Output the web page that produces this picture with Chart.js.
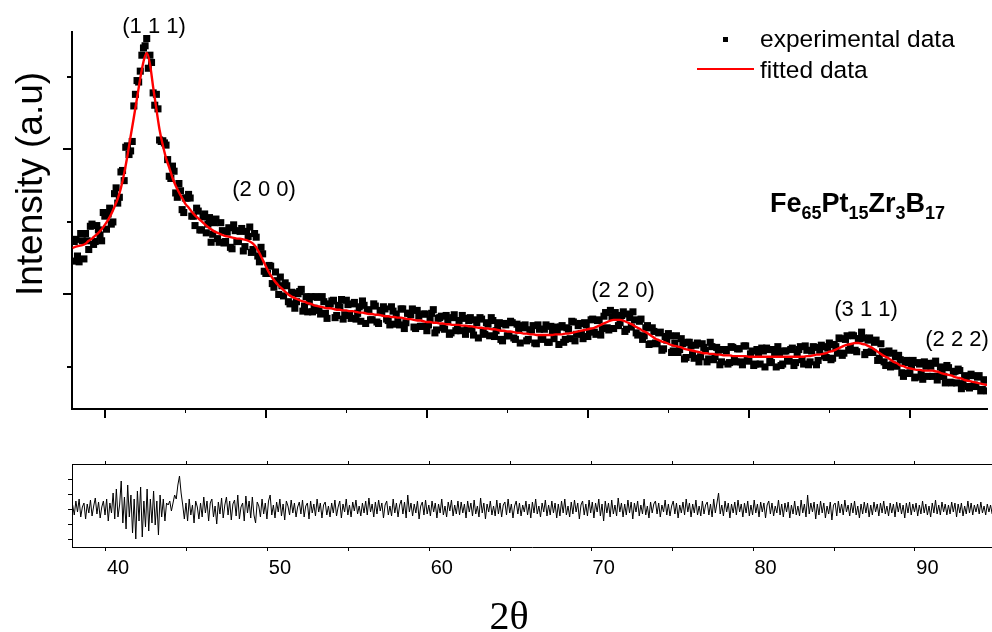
<!DOCTYPE html>
<html>
<head>
<meta charset="utf-8">
<script src="https://cdn.jsdelivr.net/npm/chart.js@4.4.1/dist/chart.umd.min.js"></script>
<style>
html, body { margin: 0; padding: 0; background: #fff; }
body { width: 992px; height: 632px; position: relative; overflow: hidden; }
canvas { position: absolute; left: 0; }
#xrdChart { top: 0; }
#residualChart { top: 440px; }
</style>
</head>
<body>
<canvas id="xrdChart" width="992" height="432"></canvas>
<canvas id="residualChart" width="992" height="192"></canvas>
<script>
// 2theta grid of the scan (deg)
const angleStart = 38.0;
const expStep = 0.1;
const fitStep = 0.2;
const residualStep = 0.1;

// measured intensity, one value every 0.1 deg from 38.0 (a.u.)
const experimental = [
    246, 273, 276, 253, 245, 284, 274, 249, 284, 274, 262, 294, 297, 269, 273, 295, 289, 282, 274, 313,
    308, 290, 311, 319, 297, 300, 339, 347, 326, 334, 369, 371, 357, 403, 405, 393, 398, 411, 460, 476,
    495, 493, 508, 530, 540, 543, 553, 512, 530, 520, 478, 461, 476, 456, 413, 411, 412, 409, 406, 386,
    363, 360, 377, 370, 340, 334, 353, 343, 317, 313, 333, 333, 338, 333, 308, 308, 295, 319, 315, 289,
    289, 307, 311, 285, 297, 306, 272, 283, 299, 304, 277, 272, 299, 288, 271, 273, 286, 292, 265, 263,
    296, 288, 273, 273, 287, 291, 260, 266, 287, 280, 293, 258, 262, 284, 279, 253, 245, 265, 256, 232,
    229, 229, 240, 239, 215, 210, 231, 219, 200, 224, 212, 198, 216, 212, 190, 187, 203, 202, 181, 190,
    201, 204, 207, 177, 184, 197, 176, 190, 197, 176, 181, 197, 196, 178, 173, 197, 190, 174, 167, 185,
    187, 191, 192, 168, 171, 185, 183, 193, 166, 172, 192, 186, 171, 167, 187, 189, 166, 174, 183, 163,
    191, 185, 160, 178, 179, 165, 165, 187, 184, 162, 160, 178, 175, 183, 180, 166, 164, 158, 183, 177,
    159, 173, 164, 158, 180, 180, 153, 161, 174, 174, 172, 180, 155, 153, 178, 170, 156, 156, 173, 173,
    150, 158, 166, 174, 179, 147, 151, 167, 168, 170, 154, 152, 171, 163, 145, 147, 168, 172, 150, 152,
    164, 150, 171, 167, 145, 153, 164, 168, 152, 144, 165, 161, 140, 168, 166, 148, 145, 161, 159, 143,
    168, 164, 142, 150, 155, 161, 138, 136, 160, 158, 143, 143, 163, 161, 140, 138, 159, 151, 133, 157,
    154, 158, 136, 138, 151, 151, 157, 133, 132, 158, 152, 140, 138, 152, 158, 134, 134, 156, 148, 139,
    155, 149, 131, 155, 157, 134, 138, 154, 152, 139, 163, 162, 136, 145, 157, 160, 146, 139, 161, 158,
    142, 149, 165, 166, 148, 145, 164, 165, 144, 153, 170, 175, 154, 151, 178, 169, 153, 175, 171, 157,
    161, 171, 176, 149, 152, 173, 168, 155, 176, 165, 147, 144, 163, 166, 138, 143, 154, 157, 131, 132,
    154, 149, 133, 132, 147, 148, 123, 125, 142, 137, 146, 143, 120, 122, 133, 143, 120, 124, 139, 132,
    111, 113, 134, 134, 129, 117, 112, 130, 133, 107, 114, 132, 127, 123, 107, 111, 134, 128, 110, 114,
    127, 123, 103, 107, 124, 124, 122, 104, 106, 128, 127, 111, 107, 125, 125, 107, 103, 129, 129, 109,
    108, 118, 122, 102, 104, 124, 118, 104, 126, 122, 100, 126, 124, 108, 106, 124, 120, 100, 128, 120,
    102, 104, 122, 122, 110, 108, 124, 126, 102, 106, 120, 124, 128, 110, 104, 129, 123, 103, 107, 122,
    128, 127, 103, 109, 123, 130, 128, 115, 113, 126, 133, 110, 112, 131, 128, 119, 140, 139, 116, 119,
    138, 143, 123, 128, 144, 143, 123, 121, 139, 139, 148, 140, 117, 120, 137, 140, 121, 120, 134, 137,
    109, 112, 132, 121, 107, 102, 119, 122, 100, 103, 119, 114, 101, 116, 110, 92, 87, 106, 109, 91,
    92, 102, 109, 85, 86, 106, 104, 90, 83, 107, 101, 87, 105, 101, 87, 105, 108, 82, 87, 100,
    95, 87, 78, 102, 99, 79, 78, 93, 94, 78, 97, 95, 70, 77, 88, 86, 73, 71, 90, 88,
    75, 73, 86, 88, 67, 69, 82, 82, 67
];

// fitted profile, one value every 0.2 deg from 38.0
const fitted = [
    264, 266, 267, 268, 270, 274, 277, 281, 285, 290, 296,
    303, 311, 321, 332, 347, 367, 391, 418, 444, 471,
    498, 521, 533, 518, 486, 456, 427, 406, 388, 375,
    361, 350, 341, 333, 325, 320, 314, 309, 305, 301,
    297, 293, 290, 287, 285, 283, 281, 280, 279, 278,
    277, 277, 276, 275, 273, 270, 265, 257, 248, 239,
    230, 223, 217, 212, 208, 204, 200, 197, 195, 193,
    191, 190, 188, 187, 185, 184, 183, 182, 181, 181,
    180, 179, 179, 178, 178, 177, 177, 176, 175, 175,
    174, 173, 173, 172, 172, 171, 170, 170, 169, 169,
    168, 168, 167, 166, 166, 165, 164, 164, 163, 162,
    162, 161, 161, 160, 160, 159, 159, 158, 158, 158,
    157, 157, 156, 156, 155, 154, 154, 153, 153, 152,
    152, 151, 150, 150, 149, 149, 148, 147, 147, 146,
    146, 145, 145, 144, 144, 144, 144, 144, 144, 145,
    145, 145, 146, 146, 147, 148, 149, 150, 151, 152,
    153, 154, 156, 158, 160, 162, 164, 165, 165, 165,
    164, 162, 160, 158, 155, 153, 150, 148, 145, 142,
    139, 137, 135, 134, 132, 130, 129, 128, 127, 125,
    124, 123, 122, 121, 120, 119, 119, 118, 118, 117,
    117, 116, 116, 116, 115, 115, 115, 115, 115, 114,
    114, 114, 114, 114, 114, 114, 114, 114, 114, 114,
    114, 114, 114, 114, 114, 114, 114, 115, 115, 116,
    117, 117, 118, 119, 121, 122, 124, 126, 128, 130,
    131, 132, 133, 133, 132, 131, 129, 127, 124, 121,
    118, 115, 113, 110, 107, 105, 102, 101, 99, 98,
    97, 96, 96, 95, 95, 95, 95, 94, 93, 91,
    90, 89, 88, 86, 85, 84, 82, 81, 80, 79,
    78, 77, 76, 75
];

// difference curve, one value every 0.1 deg from 38.0
const residual = [
    4, -6, 8, -3, 10, -8, 2, 6, -10, 5, -4, 9, -7, 3, 11, -5, 7, -9, 2, 8,
    -6, 10, -12, 6, -4, 16, -10, 20, -8, 4, 28, -14, 12, -20, 24, -8, 14, -24, 10, -30,
    18, -12, 22, -28, 8, -18, 20, -22, 10, -14, 18, -16, 8, -26, 14, -8, 10, -12, 6, 4,
    8, -2, 6, 14, 10, 24, 33, 16, 4, -10, 6, -12, 10, -6, 4, -14, 8, 2, -10, 6,
    -8, 12, -4, 8, -12, 6, 10, -8, 3, -15, 7, -5, 11, -9, 4, 12, -6, 8, -11, 5,
    9, -7, 14, -10, 2, 6, -12, 13, -4, 8, -9, 12, -6, -14, 7, 3, -8, 10, -5, 6,
    -10, 8, 14, -6, 4, -9, 7, -3, 10, -7, 5, -11, 8, 3, -6, 9, -4, 6, -8, 2,
    7, -5, 9, -8, 3, 6, -10, 8, -4, 5, -7, 10, -3, 6, -9, 4, 7, -6, 3, -8,
    6, -4, 9, -7, 2, 8, -9, 5, -3, 10, -6, 4, -8, 7, -2, 9, -5, 3, -7, 6,
    -4, 8, -6, 11, -3, 5, -8, 7, -5, 9, -2, 6, -9, 4, 8, -6, 3, -7, 10, -4,
    6, -8, 4, 9, -5, 7, -9, 14, -3, 6, -7, 5, -4, 8, -10, 3, 7, -6, 9, -5,
    4, -7, 8, -3, 6, -9, 5, -4, 10, -6, 3, -8, 7, -2, 9, -7, 4, -5, 8, -6,
    7, -4, 5, -9, 8, -3, 6, -7, 9, -5, 3, -8, 11, -4, 6, -10, 5, -3, 8, -6,
    3, -7, 9, -5, 6, -8, 4, 7, -6, 10, -4, 5, -9, 3, 8, -5, 6, -7, 4, -3,
    8, -6, 5, -9, 7, -4, 10, -5, 3, -8, 6, -3, 9, -7, 4, -6, 8, -4, 6, -9,
    5, -7, 8, -4, 10, -6, 3, -8, 7, -5, 9, -3, 6, -10, 4, 8, -6, 5, -7, 9,
    -4, 7, -9, 6, -3, 10, -7, 5, -12, 8, -4, 6, -8, 9, -5, 4, -7, 11, -3, 6,
    -8, 5, -6, 9, -4, 7, -10, 6, -3, 8, -7, 4, -5, 10, -6, 3, -9, 7, -4, 5,
    8, -5, 6, -8, 4, -3, 9, -6, 5, -7, 3, 8, -5, 6, -9, 4, -4, 7, -6, 10,
    -3, 6, -8, 5, -4, 9, -6, 3, -7, 8, -5, 4, 7, -6, 5, -8, 10, -4, 6, 16,
    -5, 4, -7, 8, -3, 6, -9, 5, -4, 7, -6, 9, -3, 5, -8, 6, -4, 8, -7, 4,
    -6, 9, -4, 5, -8, 7, -3, 6, -9, 4, 8, -5, 6, -7, 3, -4, 9, -6, 5, -8,
    6, -3, 7, -9, 4, -5, 8, -6, 3, -7, 9, -4, 5, -8, 14, -5, 6, -3, 7, -10,
    5, -6, 8, -4, 6, -9, 3, -5, 7, -11, 4, 6, -7, 8, -4, 5, -6, 9, -3, 4,
    -7, 6, -4, 8, -6, 3, -9, 5, -5, 7, -4, 6, -8, 4, -6, 7, -3, 5, -7, 6,
    -4, 8, -5, 3, -7, 6, -4, 5, -8, 7, -3, 6, -5, 4, -9, 6, -4, 7, -6, 5,
    -3, 6, -7, 4, -5, 8, -4, 5, -6, 3, -8, 6, -4, 9, -5, 4, -6, 7, -3, 5,
    -6, 4, -5, 7, -3, 6, -8, 5, -4, 6, -7, 3, -5, 8, -4, 6, -6, 4, -3, 5,
    -5, 7, -4, 3, -6, 5, -3, 4, -5
];

const majorAngles = [40, 50, 60, 70, 80, 90];
const minorAngles = [45, 55, 65, 75, 85];
const intensityMajor = [200, 400];
const intensityMinor = [100, 300, 500];
const residualTicks = [-30, -15, 0, 15, 30];
const peakNames = ["(1 1 1)", "(2 0 0)", "(2 2 0)", "(3 1 1)", "(2 2 2)"];

const SANS = "'Liberation Sans', Arial, sans-serif";
const xMin = 37.96;
const xMax = 94.79;

function toPoints(values, start, step)
{
    let pts = [];
    for (let i = 0; i < values.length; i++) {
        pts.push({ x: +(start + i * step).toFixed(2), y: values[i] });
    }
    return pts;
}

function drawMarks(chart, scale, values, len, width, side)
{
    let ctx = chart.ctx;
    let area = chart.chartArea;
    ctx.save();
    ctx.strokeStyle = "#000";
    ctx.lineWidth = width;
    ctx.beginPath();
    values.forEach(v => {
        let p = Math.round(scale.getPixelForValue(v)) + (width % 2 ? 0.5 : 0);
        if (side == "bottom") { ctx.moveTo(p, area.bottom); ctx.lineTo(p, area.bottom + len); }
        if (side == "top") { ctx.moveTo(p, area.top); ctx.lineTo(p, area.top - len); }
        if (side == "left") { ctx.moveTo(area.left, p); ctx.lineTo(area.left - len, p); }
    });
    ctx.stroke();
    ctx.restore();
}

const xrdDecor = {
    id: "xrdDecor",
    afterDraw(chart) {
        let ctx = chart.ctx;
        drawMarks(chart, chart.scales.x, majorAngles, 9, 2, "bottom");
        drawMarks(chart, chart.scales.x, minorAngles, 4, 1, "bottom");
        drawMarks(chart, chart.scales.y, intensityMajor, 9, 2, "left");
        drawMarks(chart, chart.scales.y, intensityMinor, 5, 2, "left");

        ctx.save();
        ctx.fillStyle = "#000";

        // y title
        ctx.save();
        ctx.translate(42, 184);
        ctx.rotate(-Math.PI / 2);
        ctx.font = "37px " + SANS;
        ctx.textAlign = "center";
        ctx.textBaseline = "alphabetic";
        ctx.fillText("Intensity (a.u)", 0, 0);
        ctx.restore();

        // reflections
        let peakPos = [[154, 27], [264, 190], [623, 291], [866, 310], [957, 340]];
        ctx.font = "22px " + SANS;
        ctx.textAlign = "center";
        ctx.textBaseline = "middle";
        peakNames.forEach((t, i) => ctx.fillText(t, peakPos[i][0], peakPos[i][1]));

        // legend
        ctx.fillRect(723, 37, 5, 5);
        ctx.strokeStyle = "#ff0000";
        ctx.lineWidth = 2;
        ctx.beginPath();
        ctx.moveTo(697, 69);
        ctx.lineTo(754, 69);
        ctx.stroke();
        ctx.font = "24.5px " + SANS;
        ctx.textAlign = "left";
        ctx.textBaseline = "alphabetic";
        ctx.fillText(chart.data.datasets[1].label, 760, 47);
        ctx.fillText(chart.data.datasets[0].label, 760, 78);

        // composition
        let parts = [["Fe", 0], ["65", 1], ["Pt", 0], ["15", 1], ["Zr", 0], ["3", 1], ["B", 0], ["17", 1]];
        let x = 770;
        parts.forEach(p => {
            ctx.font = p[1] ? "bold 18px " + SANS : "bold 27px " + SANS;
            ctx.fillText(p[0], x, p[1] ? 219 : 212);
            x += ctx.measureText(p[0]).width;
        });
        ctx.restore();
    }
};

const residualDecor = {
    id: "residualDecor",
    afterDraw(chart) {
        let ctx = chart.ctx;
        let area = chart.chartArea;
        let all = majorAngles.concat(minorAngles);
        drawMarks(chart, chart.scales.x, all, 4, 1, "bottom");
        drawMarks(chart, chart.scales.x, all, 3, 1, "top");
        drawMarks(chart, chart.scales.y, residualTicks, 4, 1, "left");

        ctx.save();
        ctx.strokeStyle = "#000";
        ctx.lineWidth = 1;
        ctx.beginPath();
        ctx.moveTo(area.left, area.top + 0.5);
        ctx.lineTo(area.right, area.top + 0.5);
        ctx.stroke();

        ctx.fillStyle = "#000";
        ctx.font = "40px 'Liberation Serif', 'Times New Roman', serif";
        ctx.textAlign = "center";
        ctx.textBaseline = "alphabetic";
        ctx.fillText("2\u03b8", 509, 189);
        ctx.restore();
    }
};

new Chart(
    document.getElementById("xrdChart"),
    {
        type: "line",
        data: {
            datasets: [
                {
                    label: "fitted data",
                    data: toPoints(fitted, angleStart, fitStep),
                    borderColor: "#ff0000",
                    borderWidth: 2.4,
                    pointRadius: 0,
                    cubicInterpolationMode: "monotone",
                    fill: false
                },
                {
                    label: "experimental data",
                    data: toPoints(experimental, angleStart, expStep),
                    showLine: false,
                    pointStyle: "rect",
                    pointRadius: 5,
                    pointBorderWidth: 0,
                    pointBackgroundColor: "#000",
                    borderColor: "#000"
                }
            ]
        },
        options: {
            responsive: false,
            animation: false,
            devicePixelRatio: 1,
            events: [],
            layout: { padding: { top: 32, left: 0, right: 0, bottom: 0 } },
            plugins: { legend: { display: false }, tooltip: { enabled: false } },
            scales: {
                x: {
                    type: "linear",
                    min: xMin,
                    max: xMax,
                    afterBuildTicks: axis => { axis.ticks = majorAngles.map(v => ({ value: v })); },
                    afterFit: axis => { axis.height = 23; },
                    ticks: { display: false },
                    grid: { display: false },
                    border: { display: true, color: "#000", width: 2 }
                },
                y: {
                    min: 42,
                    max: 562,
                    afterFit: axis => { axis.width = 72; },
                    ticks: { display: false },
                    grid: { display: false },
                    border: { display: true, color: "#000", width: 2 }
                }
            }
        },
        plugins: [xrdDecor]
    }
);

new Chart(
    document.getElementById("residualChart"),
    {
        type: "line",
        data: {
            datasets: [{
                label: "residual",
                data: toPoints(residual, angleStart, residualStep),
                borderColor: "#000",
                borderWidth: 1,
                pointRadius: 0,
                tension: 0,
                fill: false
            }]
        },
        options: {
            responsive: false,
            animation: false,
            devicePixelRatio: 1,
            events: [],
            layout: { padding: { top: 24, left: 0, right: 0, bottom: 0 } },
            plugins: { legend: { display: false }, tooltip: { enabled: false } },
            scales: {
                x: {
                    type: "linear",
                    min: xMin,
                    max: xMax,
                    afterBuildTicks: axis => { axis.ticks = majorAngles.map(v => ({ value: v })); },
                    afterFit: axis => { axis.height = 85; },
                    ticks: {
                        display: true,
                        autoSkip: false,
                        maxRotation: 0,
                        labelOffset: 13,
                        padding: 9,
                        color: "#000",
                        font: { family: "'Liberation Sans', Arial, sans-serif", size: 20 },
                        callback: v => String(v)
                    },
                    grid: { display: true, drawOnChartArea: false, drawTicks: false },
                    border: { display: true, color: "#000", width: 1 }
                },
                y: {
                    min: -38,
                    max: 45,
                    afterFit: axis => { axis.width = 72; },
                    ticks: { display: false },
                    grid: { display: false },
                    border: { display: true, color: "#000", width: 1 }
                }
            }
        },
        plugins: [residualDecor]
    }
);
</script>
</body>
</html>
